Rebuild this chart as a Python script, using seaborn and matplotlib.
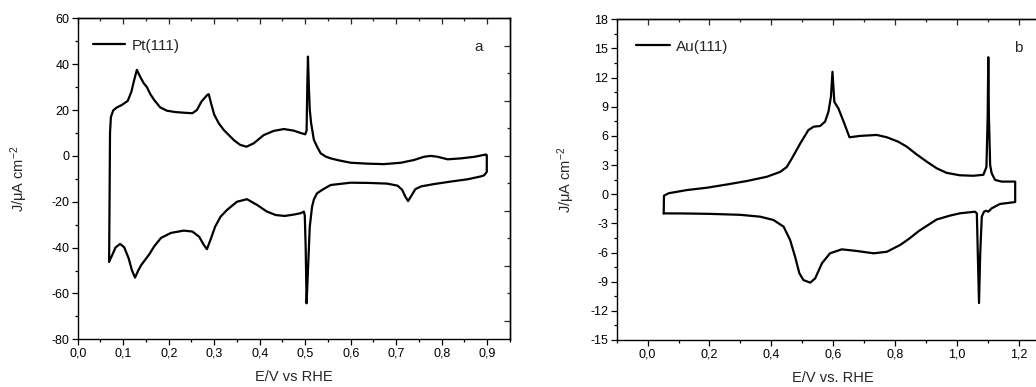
import numpy as np
import pandas as pd
import matplotlib
matplotlib.use("Agg")
import matplotlib.pyplot as plt
from matplotlib.ticker import MultipleLocator, FuncFormatter, NullFormatter
import seaborn as sns

# ---------------- data ----------------
# Pt(111): positive-going sweep
pt_fwd_E = [0.069, 0.070, 0.071, 0.073, 0.078, 0.085, 0.097, 0.110, 0.118, 0.124,
            0.130, 0.137, 0.145, 0.152, 0.160, 0.168, 0.181, 0.196, 0.215, 0.235,
            0.252, 0.262, 0.272, 0.280, 0.285, 0.288, 0.293, 0.300, 0.310, 0.321,
            0.332, 0.343, 0.357, 0.371, 0.387, 0.409, 0.431, 0.453, 0.475, 0.491,
            0.497, 0.500, 0.503, 0.5045, 0.506, 0.508, 0.510, 0.513, 0.519, 0.526,
            0.534, 0.545, 0.556, 0.575, 0.600, 0.637, 0.673, 0.710, 0.739, 0.761,
            0.776, 0.791, 0.813, 0.842, 0.872, 0.897]
pt_fwd_J = [-46.1, -20.0, 10.0, 17.0, 19.8, 21.0, 22.2, 24.0, 28.0, 33.0,
            37.5, 34.6, 31.7, 30.0, 26.8, 24.4, 21.2, 19.7, 19.1, 18.8,
            18.6, 20.0, 23.7, 25.5, 26.6, 26.9, 23.0, 18.0, 14.2, 11.3,
            9.1, 6.9, 4.8, 4.0, 5.5, 9.1, 10.9, 11.7, 11.0, 9.9,
            9.6, 9.4, 11.0, 30.0, 43.3, 30.0, 20.0, 14.2, 7.0, 4.0,
            1.1, -0.3, -1.1, -2.0, -3.0, -3.4, -3.6, -3.0, -1.8, -0.4,
            0.0, -0.4, -1.5, -1.1, -0.4, 0.6]
# Pt(111): negative-going sweep
pt_rev_E = [0.899, 0.899, 0.893, 0.885, 0.857, 0.820, 0.783, 0.755, 0.742, 0.733,
            0.726, 0.720, 0.713, 0.703, 0.680, 0.640, 0.600, 0.556, 0.540, 0.526,
            0.519, 0.515, 0.510, 0.506, 0.503, 0.501, 0.499, 0.497, 0.490, 0.475,
            0.455, 0.435, 0.415, 0.395, 0.372, 0.350, 0.328, 0.314, 0.302, 0.292,
            0.284, 0.277, 0.267, 0.252, 0.233, 0.205, 0.183, 0.168, 0.157, 0.148,
            0.140, 0.133, 0.126, 0.119, 0.112, 0.102, 0.093, 0.083, 0.076, 0.069]
pt_rev_J = [0.3, -7.0, -8.5, -9.0, -10.2, -11.2, -12.3, -13.3, -14.5, -17.5,
            -19.7, -17.8, -14.8, -13.0, -12.1, -11.8, -11.7, -12.7, -14.5, -16.3,
            -19.0, -22.2, -30.9, -50.0, -64.3, -40.0, -26.0, -24.3, -25.0, -25.6,
            -26.2, -25.8, -24.2, -21.5, -18.9, -20.0, -23.6, -26.5, -30.9, -36.5,
            -40.7, -38.8, -35.3, -33.0, -32.6, -33.6, -35.8, -39.5, -43.0, -45.4,
            -47.5, -50.0, -53.1, -49.8, -44.7, -39.8, -38.4, -40.0, -43.2, -46.1]

# Au(111): positive-going sweep
au_fwd_E = [0.052, 0.053, 0.068, 0.127, 0.192, 0.256, 0.321, 0.386, 0.429, 0.450,
            0.467, 0.494, 0.520, 0.537, 0.558, 0.574, 0.585, 0.593, 0.598, 0.604,
            0.617, 0.634, 0.653, 0.687, 0.741, 0.774, 0.811, 0.838, 0.870, 0.903,
            0.935, 0.967, 1.010, 1.054, 1.086, 1.096, 1.100, 1.102, 1.104, 1.108,
            1.113, 1.124, 1.145, 1.188]
au_fwd_J = [-1.97, -0.15, 0.1, 0.43, 0.67, 1.0, 1.36, 1.8, 2.3, 2.8,
            3.7, 5.24, 6.6, 6.95, 7.02, 7.47, 8.5, 10.04, 12.6, 9.5,
            8.84, 7.47, 5.86, 6.0, 6.1, 5.86, 5.4, 4.9, 4.1, 3.35,
            2.67, 2.2, 1.95, 1.9, 2.0, 2.8, 8.0, 14.1, 8.0, 3.0,
            2.15, 1.47, 1.3, 1.3]
# Au(111): negative-going sweep
au_rev_E = [1.189, 1.189, 1.183, 1.140, 1.113, 1.102, 1.095, 1.088, 1.081, 1.076,
            1.072, 1.068, 1.065, 1.059, 1.011, 0.978, 0.935, 0.879, 0.845, 0.817,
            0.774, 0.731, 0.677, 0.628, 0.590, 0.564, 0.542, 0.526, 0.504, 0.491,
            0.477, 0.461, 0.440, 0.407, 0.364, 0.300, 0.200, 0.120, 0.052]
au_rev_J = [1.3, -0.8, -0.83, -1.0, -1.45, -1.8, -1.7, -1.8, -2.3, -6.0,
            -11.2, -6.0, -1.96, -1.8, -1.96, -2.2, -2.6, -3.75, -4.6, -5.22,
            -5.92, -6.08, -5.84, -5.67, -6.08, -7.1, -8.66, -9.1, -8.83, -8.14,
            -6.43, -4.71, -3.34, -2.65, -2.31, -2.12, -2.02, -1.98, -1.97]

labels = ["Pt(111)", "Au(111)"]
panel_tags = ["a", "b"]
xlabels = ["E/V vs RHE", "E/V vs. RHE"]
ylabel = "J/\u03bcA cm$^{-2}$"

# ---------------- style ----------------
sns.set_style("ticks")
plt.rcParams["font.family"] = ["Liberation Sans", "DejaVu Sans"]
plt.rcParams["mathtext.default"] = "regular"
plt.rcParams["axes.unicode_minus"] = False
plt.rcParams["axes.linewidth"] = 1.0
plt.rcParams["lines.solid_joinstyle"] = "round"

W, H = 1036, 387
fig = plt.figure(figsize=(W / 100, H / 100), dpi=100)


def px_axes(left, top, right, bottom):
    return fig.add_axes([left / W, (H - bottom) / H, (right - left) / W, (bottom - top) / H])


ax1 = px_axes(77.7, 18.3, 510.0, 339.3)
ax2 = px_axes(616.7, 19.3, 1049.5, 340.0)

df_pt = pd.DataFrame({"E": pt_fwd_E + pt_rev_E, "J": pt_fwd_J + pt_rev_J})
df_au = pd.DataFrame({"E": au_fwd_E + au_rev_E, "J": au_fwd_J + au_rev_J})

sns.lineplot(data=df_pt, x="E", y="J", sort=False, estimator=None, color="black",
             linewidth=1.6, label=labels[0], ax=ax1)
sns.lineplot(data=df_au, x="E", y="J", sort=False, estimator=None, color="black",
             linewidth=1.6, label=labels[1], ax=ax2)


def comma_fmt(v, pos):
    if abs(v) < 1e-9:
        v = 0.0
    return f"{v:.1f}".replace(".", ",")


def int_fmt(v, pos):
    if abs(v) < 1e-9:
        v = 0.0
    return f"{v:.0f}"


cfg = [
    # ax, xlim, ylim, xmaj, xmin, ymaj, ymin, right major, right minor
    (ax1, (0.0, 0.95), (-80, 60), 0.1, 0.05, 20, 10, 24, 12),
    (ax2, (-0.1, 1.3), (-15, 18), 0.2, 0.1, 3, 1.5, 3, 1.5),
]

for i, (ax, xl, yl, xM, xm, yM, ym, rM, rm) in enumerate(cfg):
    ax.set_xlim(*xl)
    ax.set_ylim(*yl)
    ax.xaxis.set_major_locator(MultipleLocator(xM))
    ax.xaxis.set_minor_locator(MultipleLocator(xm))
    ax.yaxis.set_major_locator(MultipleLocator(yM))
    ax.yaxis.set_minor_locator(MultipleLocator(ym))
    ax.xaxis.set_major_formatter(FuncFormatter(comma_fmt))
    ax.yaxis.set_major_formatter(FuncFormatter(int_fmt))
    ax.tick_params(which="both", direction="out", top=False, right=False,
                   width=0.9, colors="black", labelsize=9, pad=2)
    ax.tick_params(which="major", length=4)
    ax.tick_params(which="minor", length=2.2)
    for s in ax.spines.values():
        s.set_visible(True)
        s.set_linewidth(1.0)
        s.set_color("black")

    # opposite axes with inward ticks and no labels
    top = ax.secondary_xaxis("top")
    top.xaxis.set_major_locator(MultipleLocator(xM))
    top.xaxis.set_minor_locator(MultipleLocator(xm))
    top.xaxis.set_major_formatter(NullFormatter())
    top.tick_params(which="both", direction="in", width=0.9, labeltop=False)
    top.tick_params(which="major", length=4)
    top.tick_params(which="minor", length=2.2)
    top.spines["top"].set_linewidth(1.0)

    right = ax.secondary_yaxis("right")
    right.yaxis.set_major_locator(MultipleLocator(rM))
    right.yaxis.set_minor_locator(MultipleLocator(rm))
    right.yaxis.set_major_formatter(NullFormatter())
    right.tick_params(which="both", direction="in", width=0.9, labelright=False)
    right.tick_params(which="major", length=4.5)
    right.tick_params(which="minor", length=2.2)
    right.spines["right"].set_linewidth(1.0)

    ax.set_xlabel(xlabels[i], fontsize=10.5)
    ax.set_ylabel(ylabel, fontsize=10.5)

ax1.xaxis.set_label_coords(0.5, -0.096)
ax2.xaxis.set_label_coords(0.5, -0.096)
ax1.yaxis.set_label_coords(-0.110, 0.5)
ax2.yaxis.set_label_coords(-0.092, 0.5)

ax1.legend(loc="center left", bbox_to_anchor=(0.035, 0.915), frameon=False,
           handlelength=2.1, handletextpad=0.45, borderpad=0, borderaxespad=0,
           fontsize=11)
ax2.legend(loc="center left", bbox_to_anchor=(0.0446, 0.915), frameon=False,
           handlelength=2.2, handletextpad=0.4, borderpad=0, borderaxespad=0,
           fontsize=11)

ax1.text(0.928, 0.91, panel_tags[0], transform=ax1.transAxes, ha="center",
         va="center", fontsize=11)
ax2.text(0.927, 0.91, panel_tags[1], transform=ax2.transAxes, ha="center",
         va="center", fontsize=11)

fig.savefig("out.png", dpi=100, facecolor="white")
